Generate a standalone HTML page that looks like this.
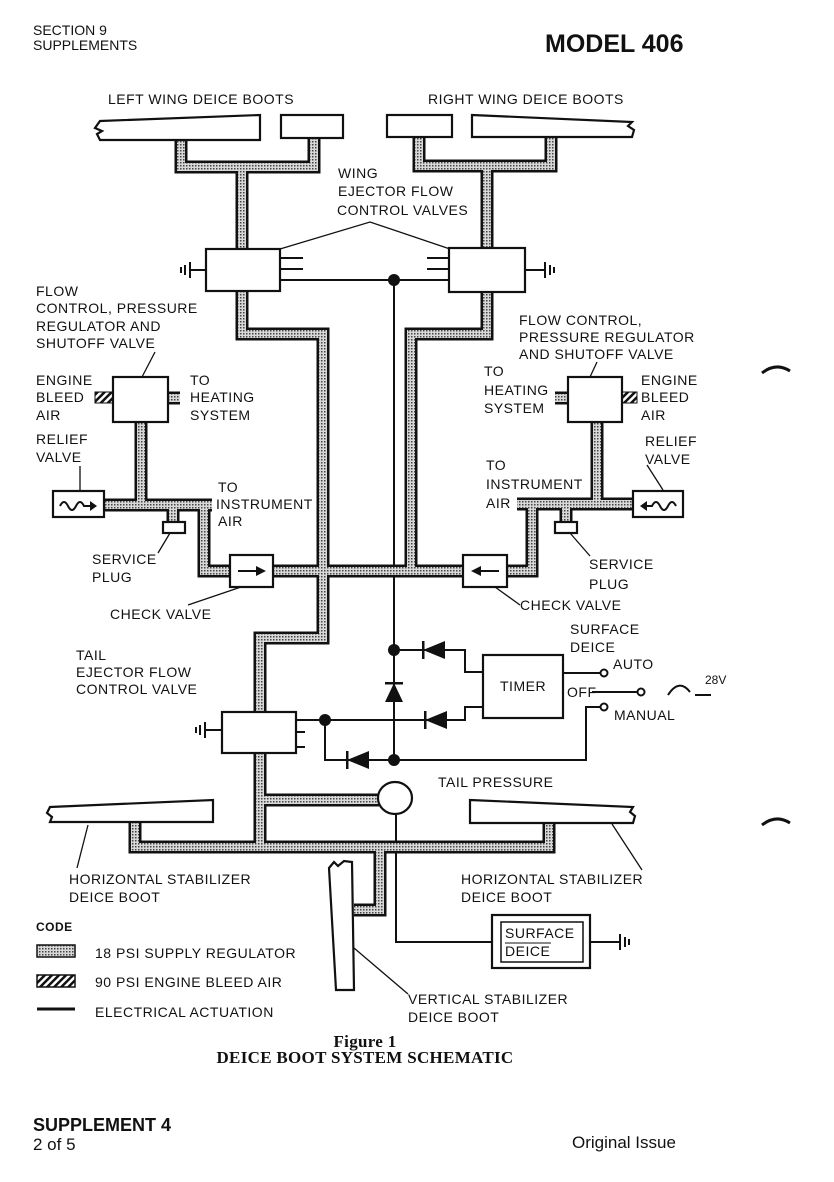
<!DOCTYPE html>
<html><head><meta charset="utf-8"><style>
html,body{margin:0;padding:0;background:#fff;}
svg{display:block}
text{font-family:"Liberation Sans",Arial,sans-serif;font-size:14px;letter-spacing:0.5px;fill:#111;}
.s{font-family:"Liberation Serif",serif;font-weight:bold;font-size:17px;letter-spacing:0.3px;}
</style></head><body>
<svg width="834" height="1182" viewBox="0 0 834 1182" xmlns="http://www.w3.org/2000/svg">
<defs>
<pattern id="dots" width="3" height="3" patternUnits="userSpaceOnUse">
<rect width="3" height="3" fill="#d8d8d8"/><rect x="0" y="0" width="1.5" height="1.5" fill="#444"/>
</pattern>
<pattern id="hatch" width="5" height="5" patternUnits="userSpaceOnUse" patternTransform="rotate(45)">
<rect width="5" height="5" fill="#fff"/><rect width="2.5" height="5" fill="#111"/>
</pattern>
</defs>

<!-- header -->
<text x="33" y="35" style="font-size:14px;letter-spacing:0">SECTION 9</text>
<text x="33" y="50" style="font-size:14px;letter-spacing:0">SUPPLEMENTS</text>
<text x="545" y="52" style="font-size:25px;font-weight:bold;letter-spacing:0">MODEL 406</text>

<!-- margin marks -->
<path d="M762,373 Q776,362 790,371" stroke="#111" stroke-width="3" fill="none"/>
<path d="M762,825 Q776,814 790,823" stroke="#111" stroke-width="3" fill="none"/>

<!-- labels -->
<text x="108" y="104">LEFT WING DEICE BOOTS</text>
<text x="428" y="104">RIGHT WING DEICE BOOTS</text>
<text x="338" y="178">WING</text>
<text x="338" y="196">EJECTOR FLOW</text>
<text x="337" y="215">CONTROL VALVES</text>
<text x="36" y="296">FLOW</text>
<text x="36" y="313">CONTROL, PRESSURE</text>
<text x="36" y="331">REGULATOR  AND</text>
<text x="36" y="348">SHUTOFF  VALVE</text>
<text x="36" y="385">ENGINE</text>
<text x="36" y="402">BLEED</text>
<text x="36" y="420">AIR</text>
<text x="190" y="385">TO</text>
<text x="190" y="402">HEATING</text>
<text x="190" y="420">SYSTEM</text>
<text x="36" y="444">RELIEF</text>
<text x="36" y="462">VALVE</text>
<text x="218" y="492">TO</text>
<text x="216" y="509">INSTRUMENT</text>
<text x="218" y="526">AIR</text>
<text x="92" y="564">SERVICE</text>
<text x="92" y="582">PLUG</text>
<text x="110" y="619">CHECK VALVE</text>
<text x="76" y="660">TAIL</text>
<text x="76" y="677">EJECTOR FLOW</text>
<text x="76" y="694">CONTROL VALVE</text>
<text x="519" y="325">FLOW CONTROL,</text>
<text x="519" y="342">PRESSURE REGULATOR</text>
<text x="519" y="359">AND SHUTOFF  VALVE</text>
<text x="484" y="376">TO</text>
<text x="484" y="395">HEATING</text>
<text x="484" y="413">SYSTEM</text>
<text x="641" y="385">ENGINE</text>
<text x="641" y="402">BLEED</text>
<text x="641" y="420">AIR</text>
<text x="645" y="446">RELIEF</text>
<text x="645" y="464">VALVE</text>
<text x="486" y="470">TO</text>
<text x="486" y="489">INSTRUMENT</text>
<text x="486" y="508">AIR</text>
<text x="589" y="569">SERVICE</text>
<text x="589" y="589">PLUG</text>
<text x="520" y="610">CHECK VALVE</text>
<text x="570" y="634">SURFACE</text>
<text x="570" y="652">DEICE</text>
<text x="613" y="669">AUTO</text>
<text x="567" y="697">OFF</text>
<text x="614" y="720">MANUAL</text>
<text x="705" y="684" style="font-size:12px;letter-spacing:0">28V</text>
<text x="438" y="787">TAIL PRESSURE</text>
<text x="69" y="884">HORIZONTAL STABILIZER</text>
<text x="69" y="902">DEICE BOOT</text>
<text x="461" y="884">HORIZONTAL STABILIZER</text>
<text x="461" y="902">DEICE BOOT</text>
<text x="36" y="931" style="font-weight:bold;font-size:12px">CODE</text>
<text x="95" y="958">18 PSI SUPPLY REGULATOR</text>
<text x="95" y="987">90 PSI ENGINE BLEED AIR</text>
<text x="95" y="1017">ELECTRICAL ACTUATION</text>
<text x="408" y="1004">VERTICAL STABILIZER</text>
<text x="408" y="1022">DEICE BOOT</text>
<text x="365" y="1047" class="s" text-anchor="middle">Figure 1</text>
<text x="365" y="1063" class="s" text-anchor="middle">DEICE BOOT SYSTEM SCHEMATIC</text>
<text x="33" y="1131" style="font-size:18px;font-weight:bold;letter-spacing:0">SUPPLEMENT 4</text>
<text x="33" y="1150" style="font-size:17px;letter-spacing:0">2 of 5</text>
<text x="572" y="1148" style="font-size:17px;letter-spacing:0">Original Issue</text>

<!-- leaders -->
<g stroke="#111" stroke-width="1.3" fill="none">
<path d="M280,249 L370,222 L450,249"/>
<path d="M155,352 L142,377"/>
<path d="M80,466 V491"/>
<path d="M158,553 L170,533"/>
<path d="M188,605 L241,587"/>
<path d="M597,362 L590,377"/>
<path d="M647,465 L663,490"/>
<path d="M570,533 L590,556"/>
<path d="M495,587 L520,605"/>
<path d="M88,825 L77,868"/>
<path d="M612,824 L642,870"/>
<path d="M354,948 L408,994"/>
</g>

<!-- electrical lines -->
<g stroke="#111" stroke-width="2" fill="none">
<path d="M280,258 H303 M280,269 H303 M427,258 H449 M427,269 H449"/>
<path d="M280,280 H449"/>
<path d="M394,280 V760"/>
<path d="M394,650 H465 V672 H483"/>
<path d="M296,720 H465 V707 H483"/>
<path d="M325,720 V760 H586 V707 H600"/>
<path d="M563,673 H600"/>
<path d="M592,692 H638"/>
<path d="M668,695 Q679,678 690,692"/>
<path d="M695,695 H711"/>
<path d="M296,732 H305 M296,747 H305"/>
<path d="M396,813 V942 H492"/>
<path d="M206,270 H190 M525,270 H545 M222,730 H205 M590,942 H620"/>
<path d="M190,262 V278 M185,265 V275 M181,267 V273"/>
<path d="M545,262 V278 M550,265 V275 M554,267 V273"/>
<path d="M205,722 V738 M200,725 V735 M196,727 V733"/>
<path d="M620,934 V950 M625,937 V947 M629,939 V945"/>
</g>
<g fill="#111">
<circle cx="394" cy="280" r="6"/><circle cx="394" cy="650" r="6"/><circle cx="394" cy="760" r="6"/><circle cx="325" cy="720" r="6"/>
<polygon points="423,650 445,641 445,659"/><rect x="422" y="641" width="2.5" height="18"/>
<polygon points="425,720 447,711 447,729"/><rect x="424" y="711" width="2.5" height="18"/>
<polygon points="347,760 369,751 369,769"/><rect x="346" y="751" width="2.5" height="18"/>
<polygon points="394,683 385,702 403,702"/><rect x="385" y="682" width="18" height="2.5"/>
</g>
<g fill="#fff" stroke="#111" stroke-width="2">
<circle cx="604" cy="673" r="3.5"/><circle cx="604" cy="707" r="3.5"/><circle cx="641" cy="692" r="3.5"/>
</g>

<!-- pipes -->
<g fill="none" stroke-linejoin="miter">
<g stroke="#111" stroke-width="13">
<path d="M181,137 V167 H314 V137 M242,167 V250"/>
<path d="M419,137 V166 H551 V137 M487,166 V249"/>
<path d="M242,291 V334 H323 V638 H260 V713"/>
<path d="M487,291 V334 H411 V571"/>
<path d="M273,571 H463"/>
<path d="M104,505 H212 M204,505 V571 H231 M141,422 V505 M173,505 V522"/>
<path d="M633,504 H517 M532,504 V571 H507 M597,422 V504 M566,504 V522"/>
<path d="M168,398 H180 M555,398 H568"/>
<path d="M260,752 V847 M135,822 V847 H549 V823 M260,800 H379 M380,847 V910 H354"/>
</g>
<g stroke="url(#dots)" stroke-width="8">
<path d="M181,137 V167 H314 V137 M242,167 V250"/>
<path d="M419,137 V166 H551 V137 M487,166 V249"/>
<path d="M242,291 V334 H323 V638 H260 V713"/>
<path d="M487,291 V334 H411 V571"/>
<path d="M273,571 H463"/>
<path d="M104,505 H212 M204,505 V571 H231 M141,422 V505 M173,505 V522"/>
<path d="M633,504 H517 M532,504 V571 H507 M597,422 V504 M566,504 V522"/>
<path d="M168,398 H180 M555,398 H568"/>
<path d="M260,752 V847 M135,822 V847 H549 V823 M260,800 H379 M380,847 V910 H354"/>
</g>
</g>
<!-- hatch bleed -->
<rect x="95" y="392" width="18" height="11" fill="url(#hatch)" stroke="#111" stroke-width="1"/>
<rect x="622" y="392" width="15" height="11" fill="url(#hatch)" stroke="#111" stroke-width="1"/>

<!-- components -->
<g fill="#fff" stroke="#111" stroke-width="2.2">
<path d="M100,121 L260,115 V140 H100 L97,134 L102,131 L95,128 Z"/>
<rect x="281" y="115" width="62" height="23"/>
<rect x="387" y="115" width="65" height="22"/>
<path d="M472,115 L632,122 L628,126 L634,130 L632,137 H472 Z"/>
<rect x="206" y="249" width="74" height="42"/>
<rect x="449" y="248" width="76" height="44"/>
<rect x="113" y="377" width="55" height="45"/>
<rect x="568" y="377" width="54" height="45"/>
<rect x="53" y="491" width="51" height="26"/>
<rect x="633" y="491" width="50" height="26"/>
<rect x="163" y="522" width="22" height="11"/>
<rect x="555" y="522" width="22" height="11"/>
<rect x="230" y="555" width="43" height="32"/>
<rect x="463" y="555" width="44" height="32"/>
<rect x="483" y="655" width="80" height="63"/>
<rect x="222" y="712" width="74" height="41"/>
<ellipse cx="395" cy="798" rx="17" ry="16"/>
<path d="M50,807 L213,800 V822 H50 L52,817 L47,813 Z"/>
<path d="M470,800 L633,807 L630,812 L635,816 L633,823 H470 Z"/>
<path d="M329,868 L334,862 L338,866 L344,861 L352,862 L354,990 H336 Z"/>
<rect x="492" y="915" width="98" height="53"/>
<rect x="501" y="922" width="82" height="40" stroke-width="1.5"/>
</g>
<!-- text inside components -->
<text x="500" y="691">TIMER</text>
<text x="505" y="938">SURFACE</text>
<text x="505" y="956">DEICE</text>
<line x1="505" y1="943" x2="551" y2="943" stroke="#111" stroke-width="1"/>

<!-- relief symbols / check arrows -->
<g stroke="#111" stroke-width="2" fill="none">
<path d="M60,506 q4,-8 8,0 t8,0 t8,0 H92"/>
<path d="M676,506 q-4,-8 -8,0 t-8,0 t-8,0 H643"/>
<path d="M238,571 H258"/>
<path d="M499,571 H478"/>
</g>
<g fill="#111">
<polygon points="97,506 90,501 90,511"/>
<polygon points="640,506 647,501 647,511"/>
<polygon points="266,571 256,566 256,576"/>
<polygon points="471,571 481,566 481,576"/>
</g>

<!-- legend -->
<rect x="37" y="945" width="38" height="12" fill="url(#dots)" stroke="#111" stroke-width="1.5"/>
<rect x="37" y="975" width="38" height="12" fill="url(#hatch)" stroke="#111" stroke-width="1.5"/>
<line x1="37" y1="1009" x2="75" y2="1009" stroke="#111" stroke-width="3"/>
</svg>
</body></html>
